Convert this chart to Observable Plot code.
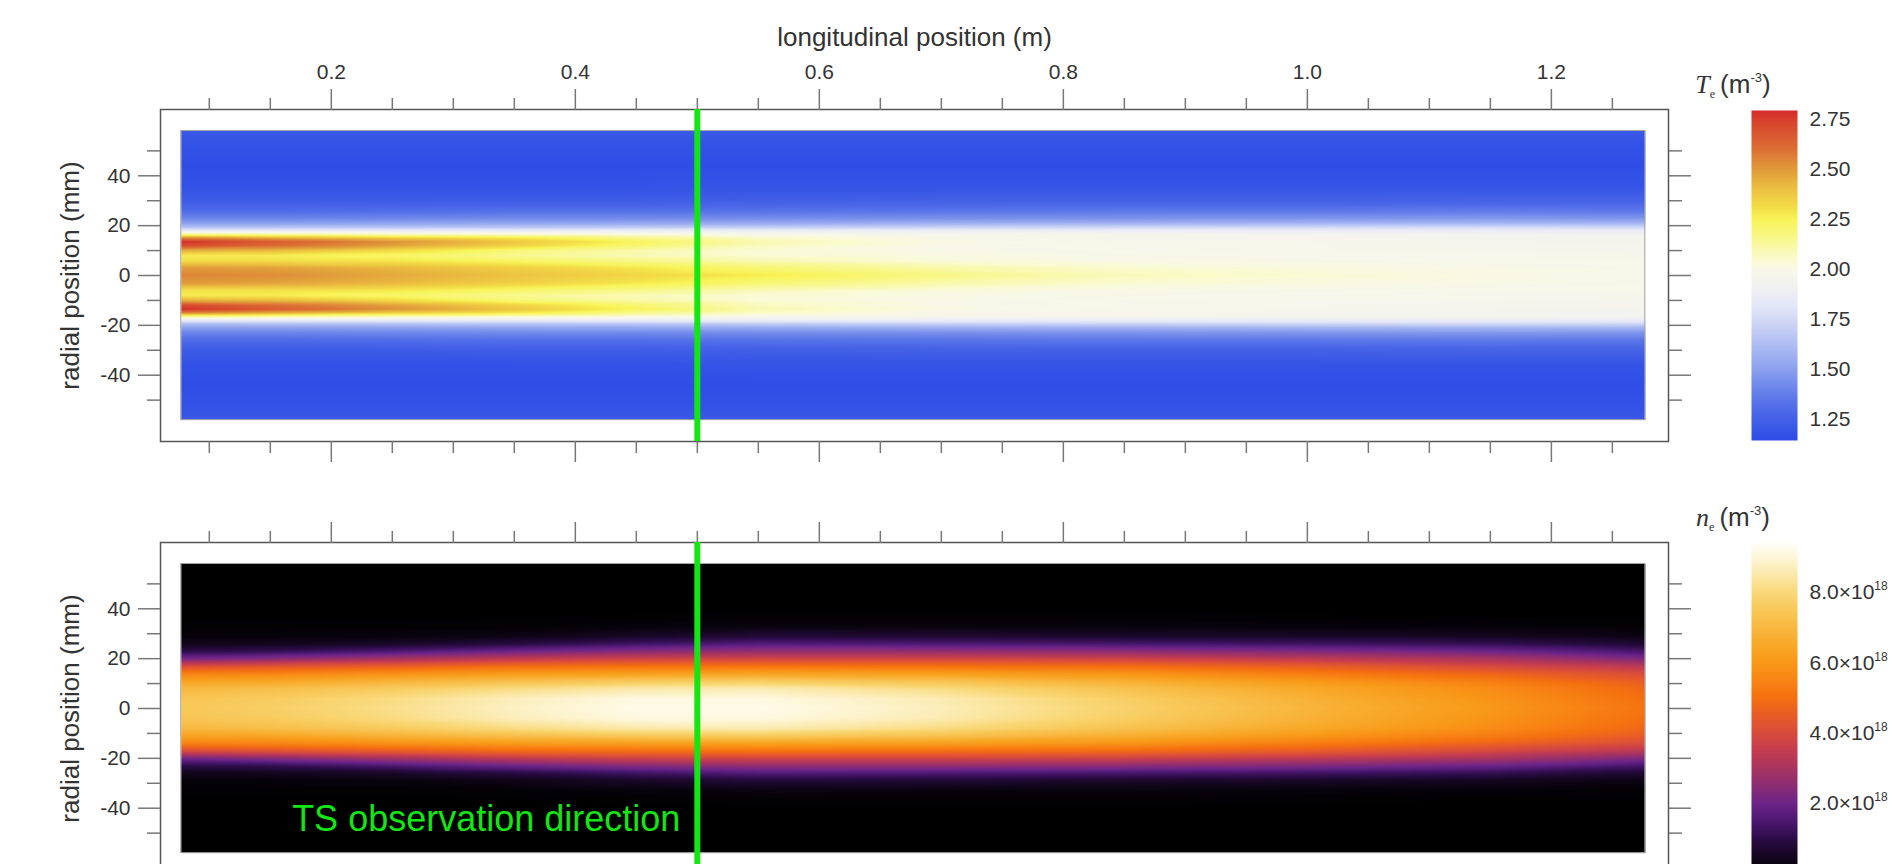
<!DOCTYPE html>
<html>
<head>
<meta charset="utf-8">
<script src="https://cdn.jsdelivr.net/npm/d3@7"></script>
<script src="https://cdn.jsdelivr.net/npm/@observablehq/plot@0.6"></script>
<style>
  html, body { margin: 0; padding: 0; background: #fff; overflow: hidden; }
  #root { position: relative; width: 1901px; height: 864px; overflow: hidden; background: #fff;
          font-family: "Liberation Sans", Arial, Helvetica, sans-serif; }
  #root svg { overflow: visible; max-width: none; }
</style>
</head>
<body>
<div id="root"></div>
<script>
// ---------------- DATA ----------------
// longitudinal sample positions (m)
const longPos = [0.077, 0.15, 0.25, 0.35, 0.45, 0.55, 0.70, 0.85, 1.00, 1.15, 1.277];

// radial sample positions (mm), half profile (mirrored about the axis)
const radTe = [0, 3, 6, 8, 10, 12, 13.5, 15, 16.5, 18, 19.5, 21, 23, 26, 30, 36, 44, 52, 58];
// Te half-profiles, one row per longitudinal position
const teProfiles = [
  [2.55, 2.50, 2.30, 2.27, 2.45, 2.72, 2.79, 2.55, 2.15, 1.85, 1.62, 1.50, 1.40, 1.30, 1.22, 1.17, 1.15, 1.17, 1.21],
  [2.53, 2.48, 2.30, 2.27, 2.42, 2.62, 2.67, 2.46, 2.12, 1.85, 1.63, 1.50, 1.40, 1.30, 1.22, 1.17, 1.15, 1.17, 1.21],
  [2.46, 2.42, 2.28, 2.22, 2.32, 2.48, 2.52, 2.36, 2.08, 1.85, 1.64, 1.51, 1.41, 1.31, 1.22, 1.17, 1.15, 1.17, 1.21],
  [2.39, 2.35, 2.22, 2.15, 2.20, 2.34, 2.38, 2.28, 2.05, 1.85, 1.65, 1.52, 1.42, 1.32, 1.23, 1.17, 1.15, 1.17, 1.21],
  [2.33, 2.28, 2.16, 2.09, 2.11, 2.21, 2.24, 2.16, 2.02, 1.86, 1.66, 1.53, 1.42, 1.32, 1.23, 1.17, 1.15, 1.17, 1.21],
  [2.27, 2.20, 2.09, 2.04, 2.04, 2.08, 2.10, 2.06, 1.98, 1.86, 1.68, 1.54, 1.43, 1.33, 1.24, 1.18, 1.15, 1.17, 1.21],
  [2.17, 2.11, 2.03, 2.01, 2.00, 2.00, 2.01, 1.99, 1.96, 1.87, 1.70, 1.56, 1.44, 1.34, 1.25, 1.18, 1.15, 1.17, 1.21],
  [2.08, 2.05, 2.00, 1.99, 1.98, 1.98, 1.98, 1.97, 1.95, 1.87, 1.72, 1.57, 1.45, 1.35, 1.25, 1.18, 1.15, 1.17, 1.21],
  [2.04, 2.02, 1.99, 1.98, 1.97, 1.97, 1.97, 1.96, 1.94, 1.87, 1.73, 1.58, 1.46, 1.35, 1.25, 1.18, 1.15, 1.17, 1.21],
  [2.01, 2.00, 1.98, 1.97, 1.97, 1.96, 1.96, 1.95, 1.93, 1.87, 1.74, 1.59, 1.47, 1.36, 1.26, 1.18, 1.15, 1.17, 1.21],
  [1.99, 1.99, 1.98, 1.97, 1.96, 1.96, 1.95, 1.94, 1.92, 1.86, 1.73, 1.58, 1.46, 1.35, 1.26, 1.18, 1.15, 1.17, 1.21]
];

const radNe = [0, 4, 8, 11, 14, 17, 20, 23, 26, 29, 33, 38, 45, 58];
// ne half-profiles in units of 1e18 m^-3
const neProfiles = [
  [7.5, 7.4, 7.0, 6.3, 5.4, 4.0, 2.1, 1.0, 0.40, 0.15, 0.05, 0, 0, 0],
  [7.7, 7.6, 7.2, 6.4, 5.5, 4.2, 2.4, 1.1, 0.45, 0.15, 0.05, 0, 0, 0],
  [8.2, 8.1, 7.6, 6.8, 5.8, 4.5, 2.9, 1.5, 0.60, 0.20, 0.05, 0, 0, 0],
  [8.8, 8.7, 8.1, 7.2, 6.1, 4.9, 3.4, 2.0, 0.90, 0.35, 0.08, 0, 0, 0],
  [9.2, 9.1, 8.5, 7.5, 6.2, 5.0, 3.7, 2.4, 1.30, 0.60, 0.15, 0.02, 0, 0],
  [9.2, 9.1, 8.6, 7.6, 6.3, 5.1, 3.8, 2.6, 1.60, 0.80, 0.25, 0.03, 0, 0],
  [8.7, 8.6, 8.1, 7.3, 6.2, 5.0, 3.8, 2.6, 1.50, 0.75, 0.22, 0.03, 0, 0],
  [7.8, 7.7, 7.3, 6.7, 5.9, 4.9, 3.7, 2.5, 1.40, 0.65, 0.20, 0.03, 0, 0],
  [6.9, 6.8, 6.5, 6.0, 5.3, 4.5, 3.4, 2.3, 1.30, 0.60, 0.15, 0.02, 0, 0],
  [6.0, 5.9, 5.7, 5.3, 4.7, 3.9, 3.0, 2.0, 1.10, 0.50, 0.12, 0, 0, 0],
  [5.1, 5.0, 4.8, 4.5, 4.0, 3.3, 2.3, 1.4, 0.70, 0.30, 0.08, 0, 0, 0]
];

const tsPosition = 0.5;
const tsLabel = {x: 0.5, y: -44.7, text: "TS observation direction"};

// ticks
const xMajorTicks = [0.2, 0.4, 0.6, 0.8, 1.0, 1.2];
const xMinorTicks = [0.1, 0.15, 0.25, 0.3, 0.35, 0.45, 0.5, 0.55, 0.65, 0.7, 0.75, 0.85, 0.9, 0.95, 1.05, 1.1, 1.15, 1.25];
const yMajorTicks = [-40, -20, 0, 20, 40];
const yMinorTicks = [-50, -30, -10, 10, 30, 50];
const teTicks = [1.25, 1.50, 1.75, 2.00, 2.25, 2.50, 2.75];
const neTicks = [2, 4, 6, 8];

// colour maps
const teStops  = [1.145, 1.2, 1.3, 1.4, 1.5, 1.6, 1.7, 1.8, 1.9, 2.0, 2.05, 2.15, 2.25, 2.3, 2.4, 2.5, 2.6, 2.75, 2.795];
const teColors = ["#2f4de6","#3857e6","#4e6ae8","#6a84ea","#8ca0ee","#a8b8f2","#c4cef4","#e0e4f8","#f0f0f4","#f8f8e8","#fafad0","#f8f890","#f8f458","#f4e048","#ecc040","#e09a3a","#dc7034","#d6402c","#d42a2a"];
const neStops  = [0, 0.5, 1.0, 1.5, 2.0, 2.5, 3.0, 3.5, 4.0, 4.5, 5.0, 5.5, 6.0, 6.5, 7.0, 7.5, 8.0, 8.5, 9.0, 9.4];
const neColors = ["#000000","#140620","#2c0c48","#4c1870","#6c2488","#8c2c74","#a83460","#c43c50","#d84c3c","#e85c28","#f47010","#f88414","#f89818","#f8a828","#f8b840","#f8c858","#f9d878","#fbe8a8","#fdf6d8","#fffff8"];

const tsGreen = "#14e614";
const FONT = '"Liberation Sans", Arial, Helvetica, sans-serif';

// ---------------- BUILD ----------------
const root = document.getElementById("root");
function place(node, left, top) {
  const div = document.createElement("div");
  div.style.position = "absolute";
  div.style.left = left + "px";
  div.style.top = top + "px";
  div.appendChild(node);
  root.appendChild(div);
}

function gridPoints(profiles, radii) {
  const pts = [];
  longPos.forEach((x, i) => radii.forEach((r, j) => {
    pts.push({x, y: r, v: profiles[i][j]});
    if (r > 0) pts.push({x, y: -r, v: profiles[i][j]});
  }));
  return pts;
}

const tickStyle = {stroke: "#777", strokeWidth: 1.5, fill: "#333", fontSize: 21, label: null};
const blank = () => "";

function heatPanel(profiles, radii, stops, colors, top) {
  const rMax = radii[radii.length - 1];
  const xa = longPos[0], xb = longPos[longPos.length - 1];
  const marks = [
    Plot.raster(gridPoints(profiles, radii), {
      x: "x", y: "y", fill: "v", interpolate: "barycentric",
      x1: xa, x2: xb, y1: -rMax, y2: rMax
    }),
    Plot.rect([{xa, xb, rMax}], {x1: "xa", x2: "xb", y1: d => -d.rMax, y2: "rMax", fill: "none", stroke: "#a0a0a0", strokeWidth: 1}),
    Plot.frame({stroke: "#555", strokeWidth: 1.5}),
    Plot.axisX(xMajorTicks, {...tickStyle, anchor: "top", tickSize: 21, tickPadding: 10, tickFormat: top ? (d => d.toFixed(1)) : blank}),
    Plot.axisX(xMinorTicks, {...tickStyle, anchor: "top", tickSize: 12, tickFormat: blank}),
    Plot.axisX(xMajorTicks, {...tickStyle, anchor: "bottom", tickSize: 21, tickFormat: blank}),
    Plot.axisX(xMinorTicks, {...tickStyle, anchor: "bottom", tickSize: 12, tickFormat: blank}),
    Plot.axisY(yMajorTicks, {...tickStyle, anchor: "left", tickSize: 22, tickPadding: 8, tickFormat: d => String(d)}),
    Plot.axisY(yMinorTicks, {...tickStyle, anchor: "left", tickSize: 13, tickFormat: blank}),
    Plot.axisY(yMajorTicks, {...tickStyle, anchor: "right", tickSize: 22, tickFormat: blank}),
    Plot.axisY(yMinorTicks, {...tickStyle, anchor: "right", tickSize: 13, tickFormat: blank}),
    Plot.ruleX([tsPosition], {stroke: tsGreen, strokeWidth: 6}),
    Plot.text(["radial position (mm)"], {text: d => d, frameAnchor: "left", textAnchor: "middle", lineAnchor: "middle", rotate: -90, dx: -90, fontSize: 26, fill: "#333"})
  ];
  if (top) {
    marks.push(Plot.text(["longitudinal position (m)"], {text: d => d, frameAnchor: "top", textAnchor: "middle", lineAnchor: "middle", dy: -72, fontSize: 26, fill: "#333"}));
  } else {
    marks.push(Plot.text([tsLabel], {x: "x", y: "y", text: "text", textAnchor: "end", dx: -17, fontSize: 36, fill: tsGreen}));
  }
  return Plot.plot({
    width: 1901, height: 470,
    marginTop: 109, marginBottom: 29, marginLeft: 160, marginRight: 233,
    x: {domain: [0.06, 1.296], label: null},
    y: {domain: [-66.6, 66.6], label: null},
    color: {type: "linear", domain: stops, range: colors, interpolate: "rgb", clamp: true},
    style: `font-family:${FONT}; font-size:20px; color:#333; background:transparent; overflow:visible;`,
    marks
  });
}

function colorbar(stops, colors, ticks, fmt) {
  const d0 = stops[0], d1 = stops[stops.length - 1];
  return Plot.plot({
    width: 181, height: 470,
    marginTop: 110, marginBottom: 30, marginLeft: 31, marginRight: 104,
    x: {domain: [0, 1], axis: null},
    y: {domain: [d0, d1], label: null},
    color: {type: "linear", domain: stops, range: colors, interpolate: "rgb", clamp: true},
    style: `font-family:${FONT}; font-size:20px; color:#333; background:transparent; overflow:visible;`,
    marks: [
      Plot.raster({fill: (x, y) => y, x1: 0, x2: 1, y1: d0, y2: d1}),
      Plot.axisY(ticks, {anchor: "right", tickSize: 0, tickPadding: 12, tickFormat: fmt, fill: "#333", fontSize: 21, label: null})
    ]
  });
}

function addTitle(svg, sym) {
  const t = d3.select(svg).append("text")
    .attr("x", 13).attr("y", 93)
    .attr("font-size", 26).attr("fill", "#333")
    .attr("font-family", FONT);
  t.append("tspan").attr("font-family", '"Liberation Serif", "Times New Roman", serif').attr("font-style", "italic").text(sym);
  t.append("tspan").attr("font-family", '"Liberation Serif", "Times New Roman", serif').attr("font-size", 12).attr("dy", 5).text("e");
  t.append("tspan").attr("dy", -5).attr("dx", 5).text("(m");
  t.append("tspan").attr("font-size", 13).attr("dy", -11).text("-3");
  t.append("tspan").attr("dy", 11).text(")");
}

// top panel: electron temperature
const topPanel = heatPanel(teProfiles, radTe, teStops, teColors, true);
place(topPanel, 0, 0);

// bottom panel: electron density
const bottomPanel = heatPanel(neProfiles, radNe, neStops, neColors, false);
place(bottomPanel, 0, 433);

// colour bars
const teBar = colorbar(teStops, teColors, teTicks, d => d.toFixed(2));
addTitle(teBar, "T");
place(teBar, 1720, 0);

const neBar = colorbar(neStops, neColors, neTicks, d => d.toFixed(1) + "×10");
d3.select(neBar).selectAll("text").each(function() {
  const s = this.textContent;
  if (s.endsWith("×10")) {
    d3.select(this).append("tspan").attr("font-size", 12).attr("dy", -9).text("18");
  }
});
addTitle(neBar, "n");
place(neBar, 1720, 433);
</script>
</body>
</html>
